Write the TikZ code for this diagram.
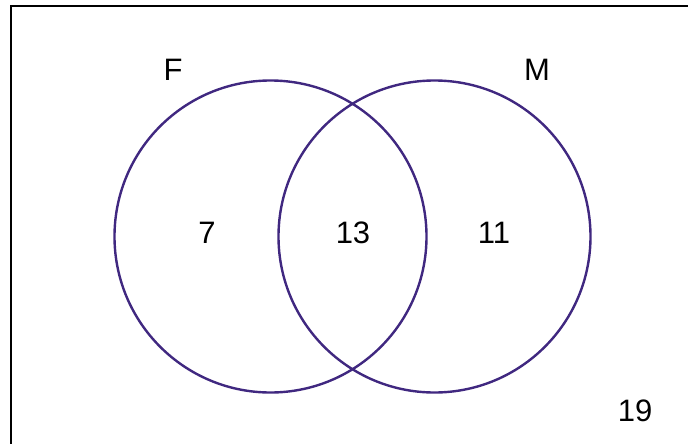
\documentclass[tikz,border=0pt]{standalone}
\usepackage{fontspec}
\setmainfont{Liberation Sans}
\usepackage{xcolor}
\usepackage{tikz}
\usetikzlibrary{positioning}
\definecolor{vennpurple}{RGB}{64, 40, 128}

\begin{document}
\begin{tikzpicture}[
  x=1pt, y=-1pt,
  every node/.style={font=\fontsize{31}{36}\selectfont},
  set/.style={draw=vennpurple, line width=2.4pt, circle, minimum size=312pt, inner sep=0pt},
  frame/.style={draw=black, line width=1.5pt},
  count/.style={inner sep=0pt}
]
  \useasboundingbox (0,0) rectangle (688,444);

  % universe frame (only its top and left edges show)
  \coordinate (ul) at (11,6);
  \draw[frame] (ul |- 0,450) -- (ul) -- (700,6);

  % the two sets
  \node[set] (setF) at (270.5,236.5) {};
  \node[set] (setM) at (434.5,236.5) {};

  \node[count] (nameF) at (173,70) {F};
  \node[count] (nameM) at (537,70) {M};

  \node[count] (onlyF) at (207,233) {7};
  \node[count] (both) at (353,233) {13};
  \node[count] (onlyM) at (494,233) {11};
  \node[count] (none) at (635,411) {19};

\end{tikzpicture}
\end{document}
